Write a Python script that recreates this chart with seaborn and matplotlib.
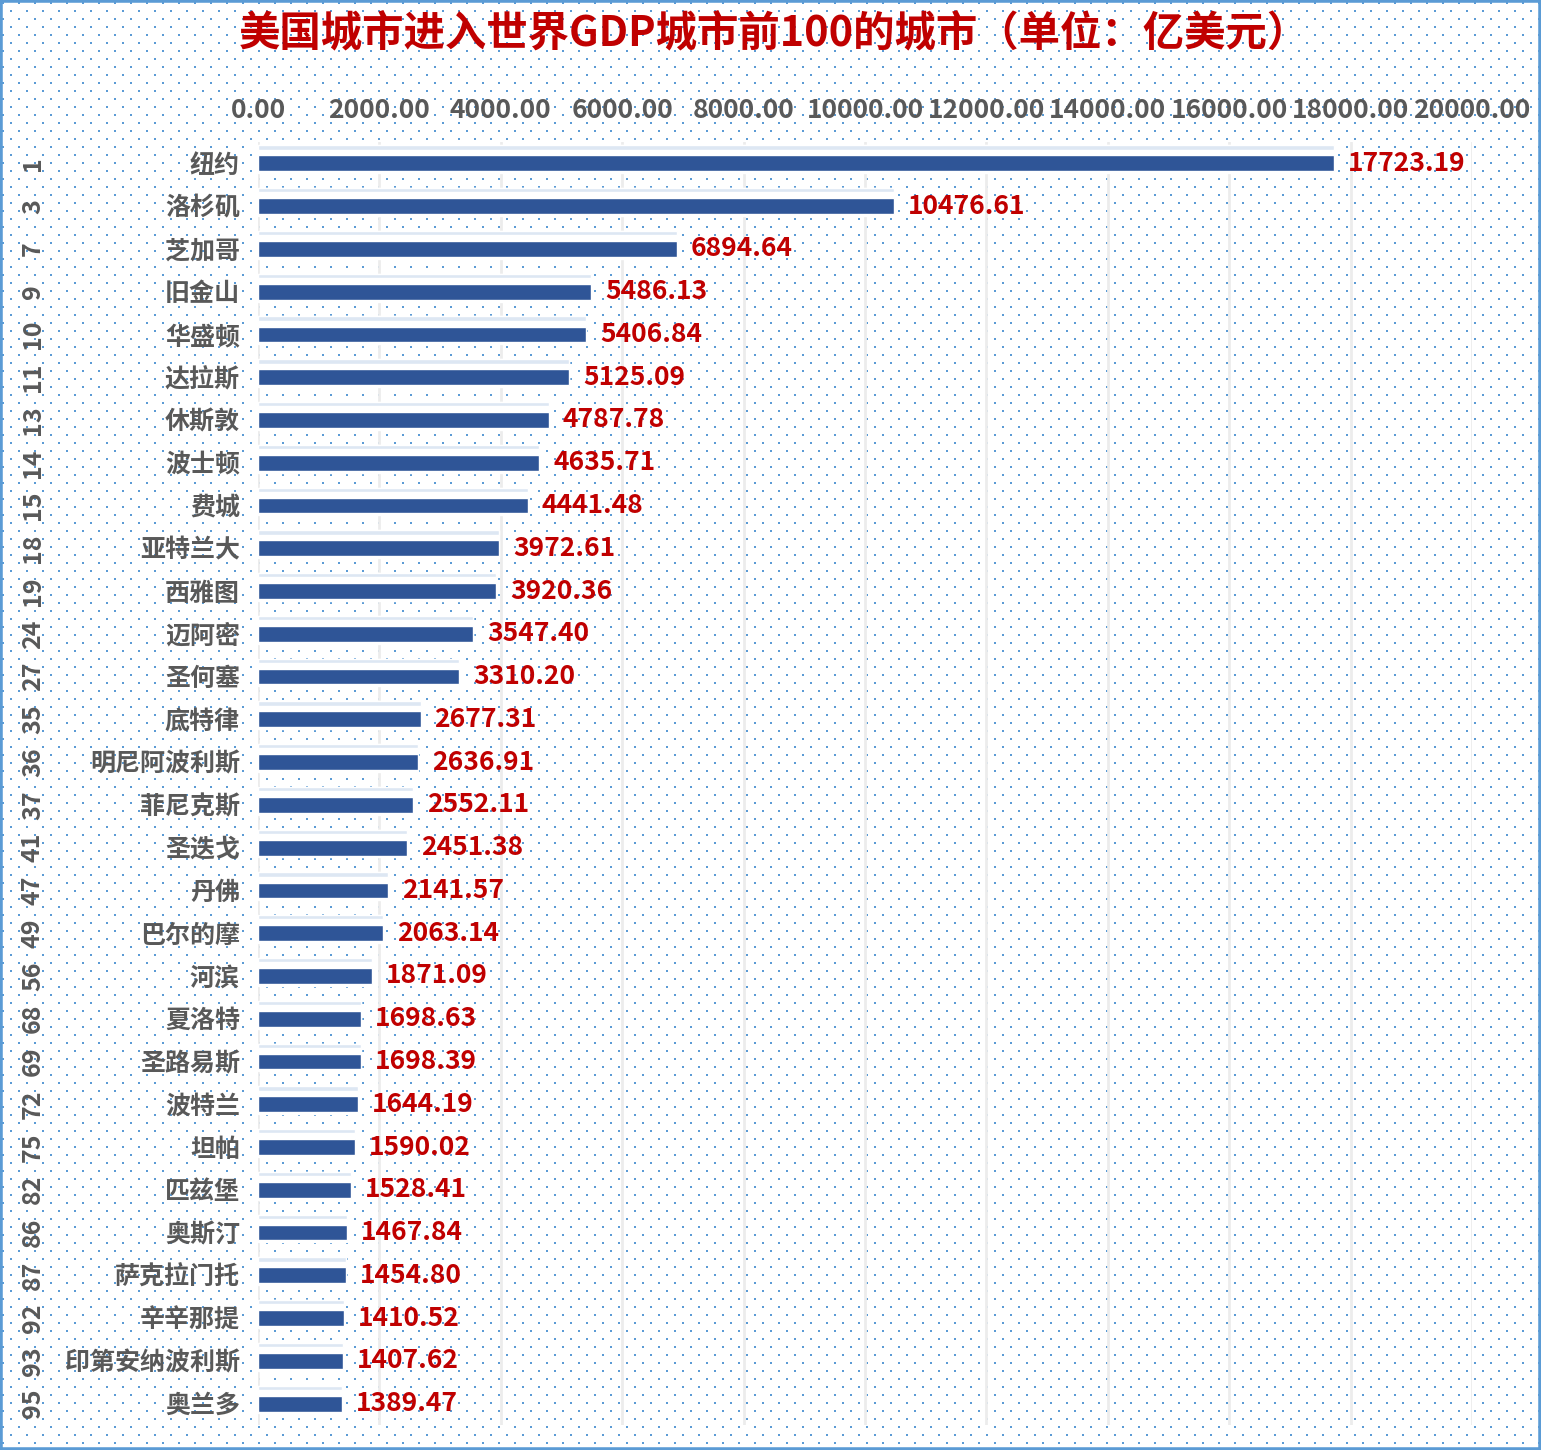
import numpy as np
import pandas as pd
import seaborn as sns
import matplotlib.pyplot as plt
from matplotlib.patches import Rectangle
from matplotlib.transforms import blended_transform_factory

cities = ['纽约', '洛杉矶', '芝加哥', '旧金山', '华盛顿', '达拉斯', '休斯敦', '波士顿', '费城',
          '亚特兰大', '西雅图', '迈阿密', '圣何塞', '底特律', '明尼阿波利斯', '菲尼克斯', '圣迭戈',
          '丹佛', '巴尔的摩', '河滨', '夏洛特', '圣路易斯', '波特兰', '坦帕', '匹兹堡', '奥斯汀',
          '萨克拉门托', '辛辛那提', '印第安纳波利斯', '奥兰多']
ranks = [1, 3, 7, 9, 10, 11, 13, 14, 15, 18, 19, 24, 27, 35, 36, 37, 41, 47, 49, 56,
         68, 69, 72, 75, 82, 86, 87, 92, 93, 95]
gdp = [17723.19, 10476.61, 6894.64, 5486.13, 5406.84, 5125.09, 4787.78, 4635.71, 4441.48,
       3972.61, 3920.36, 3547.40, 3310.20, 2677.31, 2636.91, 2552.11, 2451.38, 2141.57,
       2063.14, 1871.09, 1698.63, 1698.39, 1644.19, 1590.02, 1528.41, 1467.84, 1454.80,
       1410.52, 1407.62, 1389.47]
title = '美国城市进入世界GDP城市前100的城市（单位：亿美元）'

df = pd.DataFrame({'city': cities, 'gdp': gdp, 'rank': ranks})

sns.set_theme(style='white')
plt.rcParams['font.family'] = ['Noto Sans CJK SC', 'DejaVu Sans']

W, H = 1541, 1450
fig = plt.figure(figsize=(W / 100, H / 100), dpi=100)
fig.patch.set_facecolor('white')

# dotted background
bg = fig.add_axes([0, 0, 1, 1], zorder=0)
bg.set_xlim(0, W)
bg.set_ylim(H, 0)
bg.axis('off')
dx, dy = np.meshgrid(np.arange(3, W, 16), np.arange(3, H, 8))
dx = dx + (np.arange(dx.shape[0])[:, None] % 2) * 8
bg.scatter(dx.ravel(), dy.ravel(), s=2.2, marker='s', color='#5b9bd5', linewidths=0)

ax = fig.add_axes([258 / W, 1 - 1425 / H, (1472 - 258) / W, (1425 - 142) / H], zorder=1)
ax.set_facecolor('none')

n = len(df)
pos = np.arange(n)
# light "shadow" behind each bar
ax.barh(pos - 0.095, df['gdp'], height=0.65, color='white', zorder=2)
ax.barh(pos - 0.37, df['gdp'], height=0.1, color='#dde7f3', zorder=2)
sns.barplot(data=df, x='gdp', y='city', color='#2f5597', width=0.37, saturation=1,
            ax=ax, zorder=3, orient='h')

ax.set_xlim(0, 20000)
ax.set_ylim(n - 0.5, -0.5)
ax.set_xticks(np.arange(0, 20001, 2000))
ax.xaxis.tick_top()
ax.set_xticklabels([f'{t:.2f}' for t in np.arange(0, 20001, 2000)])
ax.tick_params(axis='x', length=0, pad=13, labelsize=19, labelcolor='#595959')
ax.tick_params(axis='y', length=0, pad=13, labelsize=18, labelcolor='#595959')
for lab in ax.get_xticklabels() + ax.get_yticklabels():
    lab.set_fontweight('bold')
ax.set_xlabel('')
ax.set_ylabel('')
ax.grid(axis='x', color='#ececec', linewidth=2, zorder=1)
ax.set_axisbelow(True)
for s in ax.spines.values():
    s.set_visible(False)

for i, v in enumerate(df['gdp']):
    ax.annotate(f'{v:.2f}', (v, i), xytext=(10, 0), textcoords='offset points',
                ha='left', va='center', fontsize=19, fontweight='bold', color='#c00000', zorder=4)

tr = blended_transform_factory(fig.transFigure, ax.transData)
for i, r in enumerate(df['rank']):
    ax.text(33 / W, i, str(r), transform=tr, rotation=90, ha='center', va='center',
            fontsize=18, fontweight='bold', color='#595959')

fig.text(774 / W, 1 - 34 / H, title, ha='center', va='center', fontsize=29.8,
         fontweight='bold', color='#c00000')

fig.add_artist(Rectangle((0, 0), 1, 1, transform=fig.transFigure, fill=False,
                         edgecolor='#5b9bd5', linewidth=4, zorder=10))

fig.savefig('out.png', dpi=100)
